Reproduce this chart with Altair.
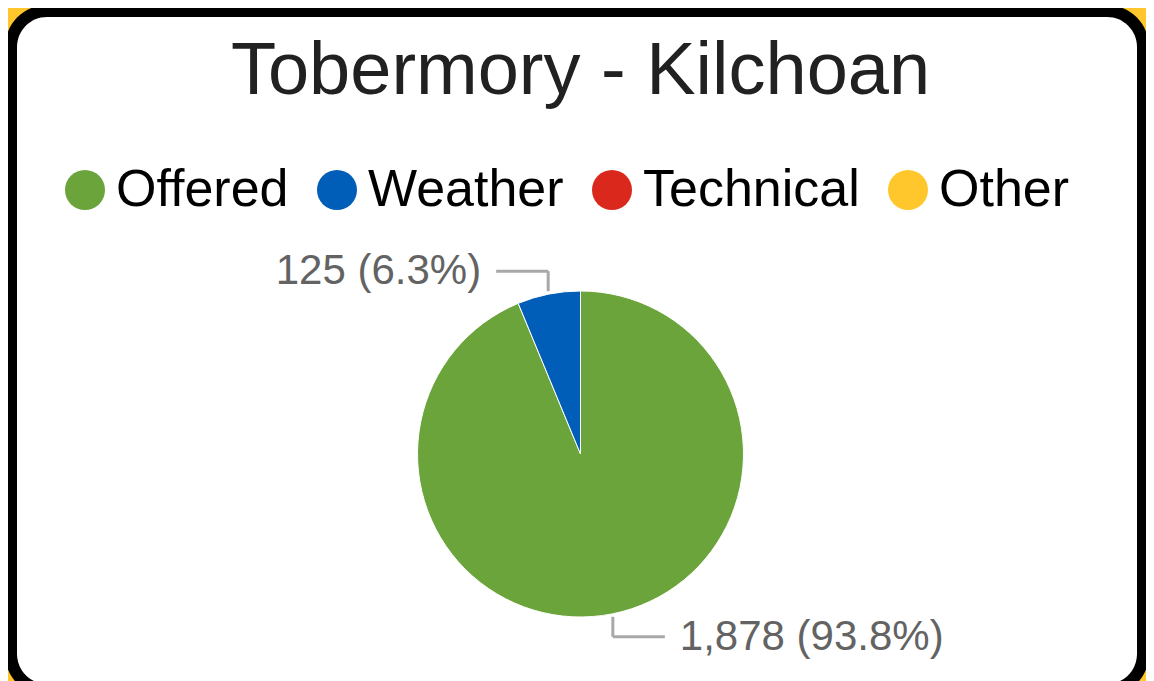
import altair as alt
import pandas as pd

# ---- data ----
categories = ["Offered", "Weather", "Technical", "Other"]
values = [1878, 125, 0, 0]
percents = [93.8, 6.3, 0.0, 0.0]
colors = ["#6AA43A", "#005EB8", "#DA291C", "#FFC72C"]
title_text = "Tobermory - Kilchoan"

FONT = "Liberation Sans"
W, H = 1138, 673
CX, CY, R = 572.5, 446, 163
ROFF, VLEN, HLEN, TGAP = 3, 20, 52, 15

df = pd.DataFrame({
    "category": categories,
    "value": values,
    "pct": percents,
    "order": list(range(len(categories))),
})
one = pd.DataFrame({"t": [title_text]})

# ---- card background ----
outer = alt.Chart(one).mark_rect(color="black", cornerRadius=42).encode(
    x=alt.value(-3), x2=alt.value(1141), y=alt.value(-3), y2=alt.value(688)
)
inner = alt.Chart(one).mark_rect(color="white", cornerRadius=30).encode(
    x=alt.value(9), x2=alt.value(1129), y=alt.value(9), y2=alt.value(676)
)

title = alt.Chart(one).mark_text(
    font=FONT, fontSize=74, color="#212121", align="center", baseline="alphabetic"
).encode(x=alt.value(CX), y=alt.value(86), text="t:N")

# ---- pie ----
pie = alt.Chart(df).transform_filter("datum.value > 0").mark_arc(
    radius=R, stroke="white", strokeWidth=1
).encode(
    theta=alt.Theta("value:Q", stack=True),
    order=alt.Order("order:Q", sort="ascending"),
    color=alt.Color(
        "category:N",
        scale=alt.Scale(domain=categories, range=colors),
        title=None,
        legend=alt.Legend(
            orient="none",
            legendX=51,
            legendY=156,
            direction="horizontal",
            symbolType="circle",
            symbolSize=1600,
            symbolStrokeWidth=0,
            symbolOpacity=1,
            labelFont=FONT,
            labelFontSize=52,
            labelColor="#000000",
            labelOffset=5,
            labelLimit=500,
            columnPadding=22,
            padding=0,
        ),
    ),
    x=alt.value(CX),
    y=alt.value(CY),
)

# ---- leader lines and labels, derived from the slice angles ----
ann = (
    alt.Chart(df)
    .transform_filter("datum.value > 0")
    .transform_joinaggregate(total="sum(value)")
    .transform_window(cum="sum(value)", sort=[alt.SortField("order")], frame=[None, 0])
    .transform_calculate(mid="(datum.cum - datum.value / 2) / datum.total * 2 * PI")
    .transform_calculate(ax=f"{CX} + {R + ROFF} * sin(datum.mid)")
    .transform_calculate(ay=f"{CY} - {R + ROFF} * cos(datum.mid)")
    .transform_calculate(vs="cos(datum.mid) > 0 ? -1 : 1")
    .transform_calculate(hs="sin(datum.mid) < 0 ? -1 : 1")
    .transform_calculate(ey=f"datum.ay + datum.vs * {VLEN}")
    .transform_calculate(hx=f"datum.ax + datum.hs * {HLEN}")
    .transform_calculate(tx=f"datum.ax + datum.hs * {HLEN + TGAP}")
    .transform_calculate(
        label="format(datum.value, ',') + ' (' + format(datum.pct, '.1f') + '%)'"
    )
)

line_color = "#A8A8A8"
vline = ann.mark_rule(color=line_color, strokeWidth=3).encode(
    x=alt.X("ax:Q", scale=None, axis=None),
    y=alt.Y("ay:Q", scale=None, axis=None),
    y2="ey:Q",
)
hline = ann.mark_rule(color=line_color, strokeWidth=3).encode(
    x=alt.X("ax:Q", scale=None, axis=None),
    x2="hx:Q",
    y=alt.Y("ey:Q", scale=None, axis=None),
)
txt_left = ann.transform_filter("datum.hs < 0").mark_text(
    font=FONT, fontSize=42, color="#636363", align="right", baseline="middle"
).encode(
    x=alt.X("tx:Q", scale=None, axis=None),
    y=alt.Y("ey:Q", scale=None, axis=None),
    text="label:N",
)
txt_right = ann.transform_filter("datum.hs > 0").mark_text(
    font=FONT, fontSize=42, color="#636363", align="left", baseline="middle"
).encode(
    x=alt.X("tx:Q", scale=None, axis=None),
    y=alt.Y("ey:Q", scale=None, axis=None),
    text="label:N",
)

chart = (
    alt.layer(outer, inner, title, pie, vline, hline, txt_left, txt_right)
    .properties(
        width=W,
        height=H,
        padding=0,
        background="#FFC72C",
        autosize=alt.AutoSizeParams(type="none"),
    )
    .configure_view(stroke="transparent")
)

chart.save("out.html", embed_options={"renderer": "svg", "actions": False})
